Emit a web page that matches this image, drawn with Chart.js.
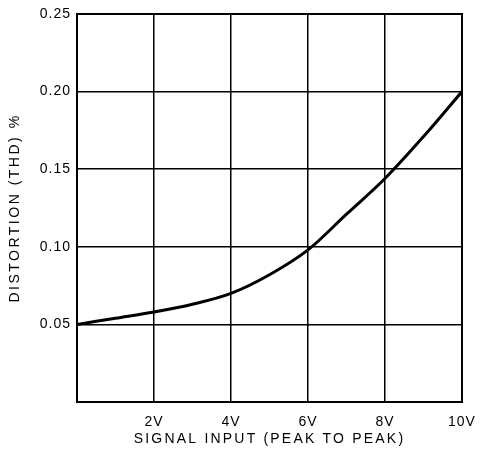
<!DOCTYPE html>
<html>
<head>
<meta charset="utf-8">
<script src="https://cdn.jsdelivr.net/npm/chart.js@4/dist/chart.umd.min.js"></script>
<style>
  html, body { margin: 0; padding: 0; background: #fff; }
  #wrap { width: 480px; height: 462px; }
</style>
</head>
<body>
<div id="wrap"><canvas id="thdChart" width="480" height="462"></canvas></div>
<script>
// signal input (V peak to peak) vs distortion
const voltages = [0, 1, 2, 3, 4, 5, 6, 7, 8, 9, 10];
const thd = [0.050, 0.054, 0.058, 0.063, 0.070, 0.082, 0.098, 0.121, 0.144, 0.171, 0.200];
const yTicks = [0.05, 0.10, 0.15, 0.20, 0.25];
const xTicks = [2, 4, 6, 8, 10];

const FONT = "'Liberation Sans', Arial, sans-serif";
// the original lettering is widely spaced
const TICK_SPACING = '1px';
const TITLE_SPACING = { x: '2.2px', y: '2.5px' };

const ctx = document.getElementById('thdChart').getContext('2d');
new Chart(ctx, {
    type: 'line',
    data: {
        datasets: [{
            data: voltages.map((v, i) => ({ x: v, y: thd[i] })),
            borderColor: '#000',
            borderWidth: 3,
            pointRadius: 0,
            tension: 0.4,
            cubicInterpolationMode: 'monotone'
        }]
    },
    options: {
        responsive: false,
        animation: false,
        layout: { padding: { top: 14, right: 18, left: 0, bottom: 10 } },
        plugins: { legend: { display: false }, tooltip: { enabled: false } },
        scales: {
            x: {
                type: 'linear',
                min: 0,
                max: 10,
                afterFit: s => {
                    s.height = 50;
                    s.paddingLeft = 0;
                    s.paddingRight = 0;
                },
                afterBuildTicks: s => { s.ticks = [0].concat(xTicks).map(v => ({ value: v })); },
                grid: { color: '#000', lineWidth: 1.5, drawTicks: false },
                border: { color: '#000', width: 2 },
                ticks: {
                    color: '#000',
                    padding: 12,
                    font: { family: FONT, size: 14 },
                    callback: v => v === 0 ? '' : v + 'V'
                },
                title: {
                    display: true,
                    text: 'SIGNAL INPUT (PEAK TO PEAK)',
                    color: '#000',
                    font: { family: FONT, size: 14 },
                    padding: { top: 4, bottom: 4 }
                }
            },
            y: {
                min: 0,
                max: 0.25,
                afterFit: s => {
                    s.width = 77;
                    s.paddingTop = 0;
                    s.paddingBottom = 0;
                },
                afterBuildTicks: s => { s.ticks = [0].concat(yTicks).map(v => ({ value: v })); },
                grid: { color: '#000', lineWidth: 1.5, drawTicks: false },
                border: { color: '#000', width: 2 },
                ticks: {
                    color: '#000',
                    padding: 6,
                    font: { family: FONT, size: 14 },
                    callback: v => v === 0 ? '' : v.toFixed(2)
                },
                title: {
                    display: true,
                    text: 'DISTORTION (THD) %',
                    color: '#000',
                    font: { family: FONT, size: 14 },
                    padding: { top: 7, bottom: 4 }
                }
            }
        }
    },
    plugins: [{
        id: 'spacing',
        beforeInit(chart) { chart.ctx.letterSpacing = TICK_SPACING; },
        afterUpdate(chart) {
            ['x', 'y'].forEach(id => {
                const s = chart.scales[id];
                if (s._wrappedTitle) return;
                const orig = s.drawTitle.bind(s);
                s.drawTitle = (...args) => {
                    chart.ctx.letterSpacing = TITLE_SPACING[id];
                    orig(...args);
                    chart.ctx.letterSpacing = TICK_SPACING;
                };
                s._wrappedTitle = true;
            });
        },
        beforeDraw(chart) { chart.ctx.letterSpacing = TICK_SPACING; }
    }, {
        // close the frame on top and right
        id: 'frame',
        afterDraw(chart) {
            const a = chart.chartArea, c = chart.ctx;
            c.save();
            c.strokeStyle = '#000';
            c.lineWidth = 2;
            c.strokeRect(a.left, a.top, a.right - a.left, a.bottom - a.top);
            c.restore();
        }
    }]
});
</script>
</body>
</html>
